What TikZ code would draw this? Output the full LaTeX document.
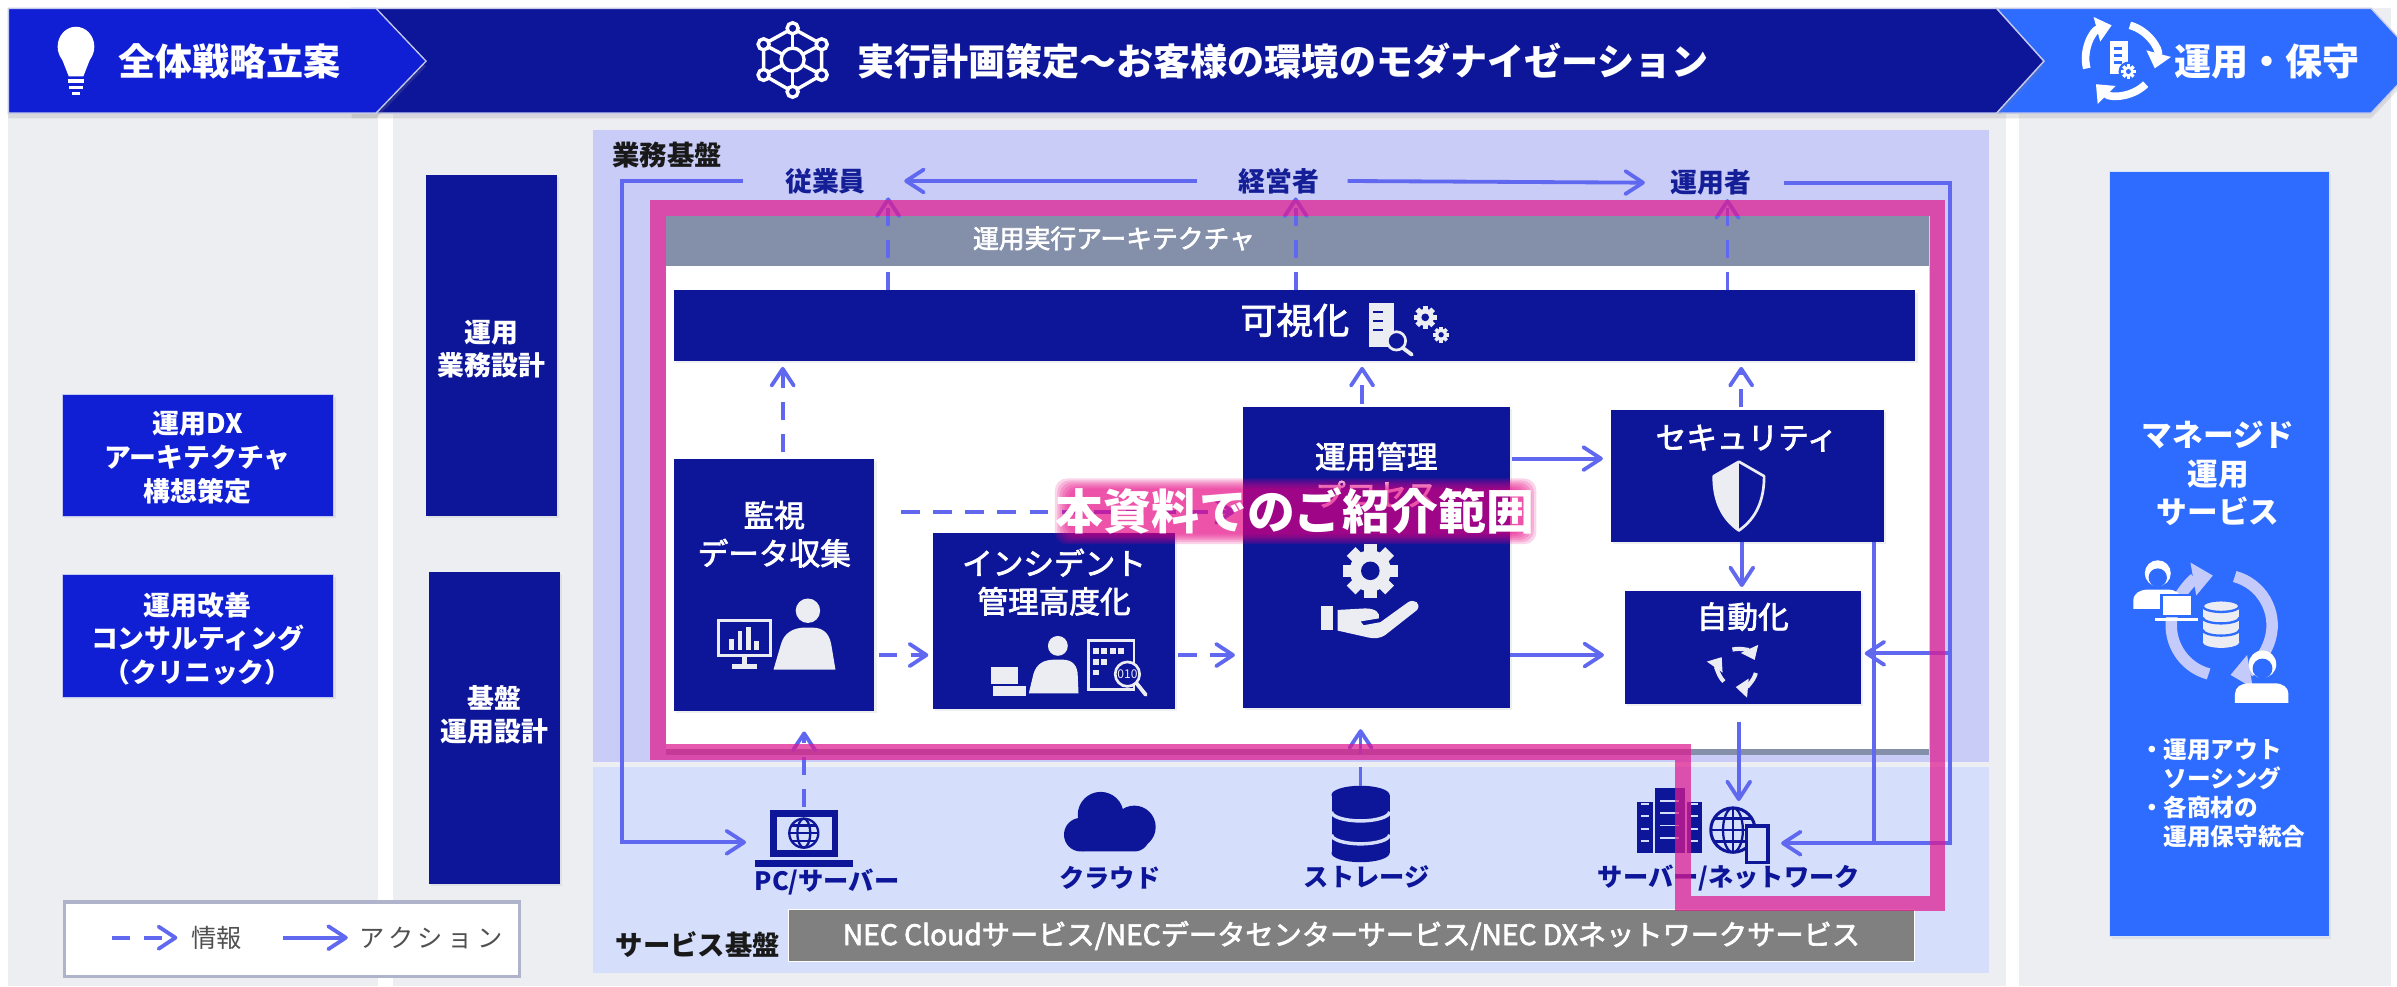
\documentclass[tikz,border=0pt]{standalone}
\usepackage{fontspec}
\setmainfont{Noto Sans CJK JP}
\newfontfamily\mediumfont{Noto Sans CJK JP}[FakeBold=2.5]
\usetikzlibrary{arrows.meta,shadows}

\definecolor{pagegrey}{RGB}{236,238,242}
\definecolor{chevblue}{RGB}{17,31,212}
\definecolor{navy}{RGB}{13,22,153}
\definecolor{actornavy}{RGB}{20,30,150}
\definecolor{mgdblue}{RGB}{46,107,255}
\definecolor{gyomubg}{RGB}{201,204,247}
\definecolor{svcbg}{RGB}{213,223,252}
\definecolor{archgrey}{RGB}{132,144,170}
\definecolor{flow}{RGB}{96,104,240}
\definecolor{scopepink}{RGB}{223,26,143}
\definecolor{glowpink}{RGB}{232,0,130}
\definecolor{iconwhite}{RGB}{236,237,242}
\definecolor{cyclelav}{RGB}{196,202,250}
\definecolor{necgrey}{RGB}{128,128,128}
\definecolor{legendgrey}{RGB}{80,80,80}
\definecolor{edgeline}{RGB}{197,202,235}

% one unit of the picture
\newcommand{\px}{0.2mm}

% gear: centre, radius, colour, hole colour
\newcommand{\gearicon}[4]{%
  \begin{scope}[shift={#1}]
    \foreach \ang in {0,45,90,135}
      \fill[#3, rotate=\ang] (-0.3*#2,-1.32*#2) rectangle (0.3*#2,1.32*#2);
    \fill[#3] (0,0) circle (#2);
    \fill[#4] (0,0) circle (0.45*#2);
  \end{scope}}

\tikzset{
  chev/.style={draw=edgeline, line width=0.5pt,
    drop shadow={opacity=0.2, shadow xshift=0pt, shadow yshift=-0.7mm}},
  card/.style={inner sep=0pt, outer sep=0pt,
    drop shadow={opacity=0.12, shadow xshift=0.3mm, shadow yshift=-0.3mm}},
  navybox/.style={card, fill=navy},
  bluebox/.style={card, fill=chevblue, draw=white!75!chevblue, line width=0.4pt},
  legendbox/.style={inner sep=0pt, fill=white, draw=edgeline!70!gray, line width=0.4mm},
  necbar/.style={inner sep=0pt, fill=necgrey, draw=white, line width=0.3pt, text=white,
    font=\mediumfont\fontsize{10.5}{12}\selectfont},
  bannertext/.style={text=white, font=\bfseries\fontsize{13.8}{16}\selectfont},
  plantext/.style={text=white, align=center, font=\bfseries\fontsize{10}{12.5}\selectfont},
  boxtitle/.style={text=white, align=center, font=\mediumfont\fontsize{11.4}{14.2}\selectfont},
  archtitle/.style={text=white, font=\mediumfont\fontsize{9.6}{11}\selectfont},
  actor/.style={text=actornavy, inner sep=0pt, font=\bfseries\fontsize{10}{12}\selectfont},
  layerlabel/.style={text=black!90, font=\bfseries\fontsize{10.2}{12}\selectfont},
  infralabel/.style={text=navy, font=\bfseries\fontsize{9.4}{11}\selectfont},
  legendtext/.style={text=legendgrey, font=\fontsize{9.4}{11}\selectfont},
  bullettext/.style={text=white, align=left, font=\bfseries\fontsize{8.8}{10.8}\selectfont},
  scopelabel/.style={font=\bfseries\fontsize{17.8}{20}\selectfont},
  bits/.style={text=iconwhite, inner sep=0pt, font=\fontsize{4.5}{5}\selectfont},
  spot/.style={inner sep=0pt, outer sep=0pt},
  info/.style={flow, line width=0.5mm, dash pattern=on 2.4mm off 1.8mm,
    -{Straight Barb[round, length=2.2mm, width=2.9mm]}},
  action/.style={flow, line width=0.5mm, -{Straight Barb[round, length=2.3mm, width=3mm]}},
  flowline/.style={flow, line width=0.5mm},
}

\begin{document}
\begin{tikzpicture}[x=0.2mm, y=-0.2mm]
\useasboundingbox (0,0) rectangle (1568,645);
\fill[white] (0,0) rectangle (1568,645);
\fill[pagegrey] (5,5) rectangle (1564,645);
\fill[white] (247,5) rectangle (257,645);
\fill[white] (1312,5) rectangle (1321,645);

% ---- phase banner
\path[chev, fill=mgdblue] (1306,5.5) -- (1551,5.5) -- (1583,40) -- (1551,74) -- (1306,74) -- (1337,40) -- cycle;
\path[chev, fill=navy] (230,5.5) -- (1306,5.5) -- (1337,40) -- (1306,74) -- (230,74) -- cycle;
\path[chev, fill=chevblue] (5.5,5.5) -- (246,5.5) -- (278.7,40) -- (246,74) -- (5.5,74) -- cycle;

\node[bannertext] (senryaku) at (150.2,40) {全体戦略立案};
\node[bannertext] (keikaku) at (839.3,40) {実行計画策定〜お客様の環境のモダナイゼーション};
\node[bannertext] (hoshu) at (1483,40) {運用・保守};

% bulb
\fill[white] (49.7,30.5) ellipse (12 and 13);
\fill[white] (39.5,36) -- (60,36) -- (54.5,50) -- (45,50) -- cycle;
\fill[white] (44.5,52) rectangle (55,54.5);
\fill[white] (45,56) rectangle (54.5,58.5);
\fill[white] (47,60) rectangle (52.5,62);

% molecule
\begin{scope}[shift={(518.5,39)}, white, line width=0.45mm]
  \coordinate (m1) at (0,-20.5);
  \coordinate (m2) at (-19,-10);
  \coordinate (m3) at (-19,10);
  \coordinate (m4) at (0,21);
  \coordinate (m5) at (19,10);
  \coordinate (m6) at (19,-10);
  \draw (m1) -- (m2) -- (m3) -- (m4) -- (m5) -- (m6) -- cycle;
  \foreach \m in {m1,m2,m3,m4,m5,m6} \draw (0,0) -- (\m);
  \foreach \m in {m1,m2,m3,m4,m5,m6} \filldraw[fill=navy] (\m) circle (3.6);
  \filldraw[fill=navy] (0,0) circle (7.5);
\end{scope}

% operation cycle
\begin{scope}[shift={(1387.3,38.8)}]
  \foreach \s in {0,120,240}
    \draw[white, line width=1mm, -{Triangle[length=2mm,width=3.2mm]}] (\s-195:23) arc (\s-195:\s-105:23);
  \fill[white] (-7,-12) rectangle (4.5,9.5);
  \foreach \yy in {-7,-2.5,2} \draw[mgdblue, line width=0.35mm] (-4.5,\yy) -- (0.5,\yy);
  \fill[mgdblue] (5,8) circle (6.5);
  \gearicon{(5,8)}{3.6}{white}{mgdblue}
\end{scope}

% ---- strategy column
\node[bluebox, minimum width=177.4*\px, minimum height=79.6*\px] (dxplan) at (129.3,297.8) {};
\node[plantext] (dxplan-txt) at (129.3,299.4) {運用DX\\アーキテクチャ\\構想策定};
\node[bluebox, minimum width=177.4*\px, minimum height=80*\px] (clinic) at (129.3,416) {};
\node[plantext] (clinic-txt) at (129.3,417.7) {運用改善\\コンサルティング\\（クリニック）};

% legend
\node[legendbox, minimum width=297.5*\px, minimum height=48.5*\px] (legend) at (190.8,614.3) {};
\coordinate (info-a) at (73,613.4);
\coordinate (info-b) at (116,613.4);
\draw[info] (info-a) -- (info-b);
\node[legendtext] (info-txt) at (141.5,613.4) {情報};
\coordinate (act-a) at (185,613.4);
\coordinate (act-b) at (227.5,613.4);
\draw[action] (act-a) -- (act-b);
\node[legendtext] (act-txt) at (282,613.4) {\addfontfeatures{LetterSpace=18}アクション};

% ---- design column
\node[navybox, minimum width=85.5*\px, minimum height=223*\px] (gyomu) at (321.3,226) {};
\node[plantext] (gyomu-txt) at (321.3,228.5) {運用\\業務設計};
\node[navybox, minimum width=85.5*\px, minimum height=204*\px] (kiban) at (323.3,476) {};
\node[plantext] (kiban-txt) at (323.3,467.5) {基盤\\運用設計};

% ---- layers
\fill[gyomubg] (388,85) rectangle (1301,498.5);
\fill[svcbg] (388,502) rectangle (1301,636.6);
\node[layerlabel] (gyomu-layer) at (436.5,101.4) {業務基盤};
\node[layerlabel] (svc-layer) at (456.5,618) {サービス基盤};

\fill[white] (435.7,141.3) rectangle (1262,494);
\fill[archgrey] (435.7,141.3) rectangle (1262,173.8);
\fill[archgrey] (435.7,490) rectangle (1262,494);
\node[archtitle] (arch) at (728.7,156) {運用実行アーキテクチャ};

\node[necbar, minimum width=737*\px, minimum height=34*\px] (nec) at (884,612)
  {NEC Cloudサービス/NECデータセンターサービス/NEC DXネットワークサービス};

% ---- function boxes
\node[navybox, minimum width=812*\px, minimum height=46*\px] (kashika) at (847,213) {};
\node[navybox, minimum width=131*\px, minimum height=165*\px] (kanshi) at (506.5,382.5) {};
\node[navybox, minimum width=158.5*\px, minimum height=115*\px] (incident) at (689.5,406) {};
\node[navybox, minimum width=175*\px, minimum height=197*\px] (kanri) at (900.3,364.5) {};
\node[navybox, minimum width=179*\px, minimum height=86*\px] (security) at (1143,311.3) {};
\node[navybox, minimum width=154.6*\px, minimum height=74*\px] (jidou) at (1140,423.5) {};

\node[boxtitle, font=\mediumfont\fontsize{13.5}{16}\selectfont] (kashika-txt) at (847,209.4) {可視化};
\node[boxtitle] (kanshi-txt) at (506.5,349.5) {監視\\データ収集};
\node[boxtitle] (incident-txt) at (689.5,380.8) {インシデント\\管理高度化};
\node[boxtitle] (kanri-txt) at (900.3,310.6) {運用管理\\プロセス};
\node[boxtitle] (security-txt) at (1142.6,286.6) {セキュリティ};
\node[boxtitle] (jidou-txt) at (1140,403.4) {自動化};

% visualisation icon
\fill[iconwhite] (895.7,198.4) rectangle (912,226.8);
\foreach \yy in {204,210,216} \draw[navy, line width=0.3mm] (898,\yy) -- (905,\yy);
\draw[iconwhite, line width=0.35mm, fill=navy] (913.5,223) circle (6);
\draw[iconwhite, line width=0.5mm, line cap=round] (917.5,227.5) -- (923.5,232);
\gearicon{(932.3,207.6)}{5.6}{iconwhite}{navy}
\gearicon{(942.7,219)}{3.9}{iconwhite}{navy}

% monitoring icon
\draw[iconwhite, line width=0.35mm] (470,406) rectangle (504,429);
\foreach \xx/\yy in {477/418,482.5/413,488/410,493.5/419}
  \fill[iconwhite] (\xx,\yy) rectangle (\xx+3,425);
\fill[iconwhite] (485.5,429) rectangle (488.5,434.5);
\fill[iconwhite] (479,434.5) rectangle (495,437.5);
\fill[iconwhite] (528.5,399.5) circle (8);
\fill[iconwhite] (506,438) -- (511,421) .. controls (513,414) and (519,410.5) .. (527,410.5)
  -- (531,410.5) .. controls (540,410.5) and (543,416) .. (544,423) -- (546.5,438) -- cycle;

% incident icon
\fill[iconwhite] (648.5,436) rectangle (666,447.5);
\fill[iconwhite] (649.5,449) rectangle (671,455);
\fill[iconwhite] (692,422.5) circle (6.5);
\fill[iconwhite] (673,453.5) -- (676,441) .. controls (678,434) and (683,431.5) .. (690,431.5)
  -- (695,431.5) .. controls (702,431.5) and (705,436) .. (705,442) -- (705.5,453.5) -- cycle;
\draw[iconwhite, line width=0.3mm] (712,419) rectangle (742,451);
\foreach \xx in {715,720.5,726,731.5} \fill[iconwhite] (\xx,424) rectangle ++(3.8,3.8);
\foreach \xx in {715,720.5} \fill[iconwhite] (\xx,431) rectangle ++(3.8,3.8);
\fill[iconwhite] (715,438) rectangle ++(3.8,3.8);
\draw[iconwhite, line width=0.35mm, fill=navy] (737.5,441) circle (8);
\draw[iconwhite, line width=0.5mm, line cap=round] (743.5,447) -- (749.5,454.5);
\node[bits] (bits) at (737.5,441) {010};

% process icon
\gearicon{(896.4,373.4)}{13.5}{iconwhite}{navy}
\fill[iconwhite] (864,396.4) rectangle (872,412);
\fill[iconwhite] (875,399) -- (893,398) .. controls (900,398) and (903,401) .. (902,404.5)
  -- (890,406.5) -- (892,409) -- (903,407) -- (921,394) .. controls (925,391.5) and (930,394.5) .. (927,399)
  -- (906,415.5) .. controls (903,417.5) and (899,418) .. (895,417) -- (875,412.5) -- cycle;

% shield
\fill[iconwhite] (1137.5,302) -- (1121,311.5) .. controls (1121,327) and (1126,339) .. (1137.5,347) -- cycle;
\draw[iconwhite, line width=0.35mm, line join=round] (1137.5,302) -- (1154,311.5)
  .. controls (1154,327) and (1149,339) .. (1137.5,347)
  .. controls (1126,339) and (1121,327) .. (1121,311.5) -- cycle;

% automation cycle
\begin{scope}[shift={(1136.5,437)}]
  \foreach \s in {0,120,240}
    \draw[iconwhite, line width=0.55mm, -{Triangle[length=1.6mm,width=2.4mm]}] (\s+15:12.5) arc (\s+15:\s+95:12.5);
\end{scope}

% ---- actors
\node[actor] (jugyoin) at (540,118.4) {従業員};
\node[actor] (keiei) at (836.4,118.4) {経営者};
\node[actor] (unyosha) at (1119,119.5) {運用者};

% ---- service layer
\node[spot, minimum width=64*\px, minimum height=37*\px] (pc) at (526,548.5) {};
\node[spot, minimum width=63*\px, minimum height=39*\px] (cloud) at (725.5,537.5) {};
\node[spot, minimum width=38*\px, minimum height=50*\px] (storage) at (890,539) {};
\node[spot, minimum width=42.5*\px, minimum height=42.5*\px] (server) at (1092,537) {};
\node[spot, minimum width=38*\px, minimum height=36*\px] (net) at (1137.6,546) {};

% laptop
\fill[navy] (503.4,530) rectangle (548.4,560.4);
\fill[svcbg] (508,534.5) rectangle (544,556);
\fill[navy] (494,562.5) rectangle (558,567);
\draw[navy, line width=0.3mm] (525.8,545) circle (9.5);
\draw[navy, line width=0.3mm] (525.8,545) ellipse (4.2 and 9.5);
\draw[navy, line width=0.3mm] (516.3,545) -- (535.3,545) (518,540) -- (533.6,540) (518,550) -- (533.6,550);
% cloud
\fill[navy] (720,533) circle (15);
\fill[navy] (742,541) circle (14);
\fill[navy] (707,546) circle (11);
\fill[navy, rounded corners=2mm] (700,538) rectangle (752,557);
% storage
\fill[navy] (871,520) rectangle (909,558);
\fill[navy] (890,520) ellipse (19 and 6);
\fill[navy] (890,558) ellipse (19 and 6);
\draw[svcbg, line width=0.45mm] (871,531) arc (180:0:19 and 6);
\draw[svcbg, line width=0.45mm] (871,546) arc (180:0:19 and 6);
% server building
\fill[navy] (1071,524.4) rectangle (1081,558.2);
\fill[navy] (1082.3,515.7) rectangle (1102.3,558.2);
\fill[navy] (1103.5,524.4) rectangle (1113.5,558.2);
\foreach \yy in {524,532,540,548} {
  \draw[svcbg, line width=0.25mm] (1086,\yy) -- (1098.5,\yy);
  \draw[svcbg, line width=0.25mm] (1073.5,\yy+2) -- (1078.5,\yy+2);
  \draw[svcbg, line width=0.25mm] (1106,\yy+2) -- (1111,\yy+2);
}
% globe and phone
\draw[navy, line width=0.4mm] (1133.6,543) circle (14.5);
\draw[navy, line width=0.3mm] (1133.6,543) ellipse (6.5 and 14.5);
\draw[navy, line width=0.3mm] (1119.1,543) -- (1148.1,543) (1121,535.5) -- (1146,535.5)
  (1121,550.5) -- (1146,550.5) (1133.6,528.5) -- (1133.6,557.5);
\draw[navy, line width=0.45mm, fill=svcbg] (1142.3,540.3) rectangle (1156.6,564.1);

\node[infralabel] (pc-txt) at (541,577) {PC/サーバー};
\node[infralabel] (cloud-txt) at (726,574.5) {クラウド};
\node[infralabel] (storage-txt) at (894,573.5) {ストレージ};
\node[infralabel] (net-txt) at (1131,574.4) {サーバー/ネットワーク};

% ---- managed service column
\node[card, fill=mgdblue, draw=white!80!mgdblue, line width=0.4pt,
  minimum width=143.5*\px, minimum height=500.7*\px] (managed) at (1451.8,362.4) {};
\node[plantext, font=\bfseries\fontsize{11.4}{14.3}\selectfont] (managed-txt) at (1451,309.8) {マネージド\\運用\\サービス};
\begin{scope}[shift={(1453.3,409)}]
  \draw[cyclelav, line width=1.5mm, -{Triangle[length=2.6mm,width=4.2mm]}] (-255:33) arc (-255:-100:33);
  \draw[cyclelav, line width=1.5mm, -{Triangle[length=2.6mm,width=4.2mm]}] (-75:33) arc (-75:80:33);
\end{scope}
\fill[iconwhite] (1440.9,396.5) rectangle (1464.9,420);
\fill[iconwhite] (1452.9,420) ellipse (12 and 3.8);
\fill[iconwhite] (1452.9,396.5) ellipse (12 and 3.8);
\draw[mgdblue, line width=0.3mm] (1452.9,396.5) ellipse (12 and 3.8);
\draw[mgdblue, line width=0.3mm] (1440.9,404) arc (180:0:12 and 3.8);
\draw[mgdblue, line width=0.3mm] (1440.9,412) arc (180:0:12 and 3.8);
\fill[white] (1411.5,375) circle (8.5);
\fill[mgdblue] (1411.5,377.8) circle (6);
\fill[white] (1395.5,398.3) -- (1395.5,393) .. controls (1395.5,388) and (1400,385.7) .. (1405,385.7)
  -- (1418,385.7) .. controls (1423,385.7) and (1427,388) .. (1427,393) -- (1427,398.3) -- cycle;
\fill[white, draw=mgdblue, line width=0.3mm] (1414,389) rectangle (1434,403);
\fill[white] (1410,404.5) rectangle (1438,406.5);
\fill[white] (1480,434.5) circle (9);
\fill[mgdblue] (1480,437.3) circle (6.5);
\fill[white] (1462,459.8) -- (1462,454) .. controls (1462,449.5) and (1466,447) .. (1471,447)
  -- (1488,447) .. controls (1493,447) and (1497,449.5) .. (1497,454) -- (1497,459.8) -- cycle;
\node[bullettext] (managed-list) at (1454,519) {・運用アウト\\　ソーシング\\・各商材の\\　運用保守統合};

% ---- information flow
\draw[info] ([yshift=0.8mm]kanshi.north -| 512,0) -- ([yshift=-0.8mm]kashika.south -| 512,0);
\draw[info] ([yshift=0.4mm]kanri.north -| 891,0) -- ([yshift=-0.8mm]kashika.south -| 891,0);
\draw[info] ([yshift=0.4mm]security.north -| 1139,0) -- ([yshift=-0.8mm]kashika.south -| 1139,0);
\draw[info] (kashika.north -| 581,0) -- ([yshift=-0.4mm]jugyoin.south -| 581,0);
\draw[info] (kashika.north -| 847.6,0) -- ([yshift=-0.4mm]keiei.south -| 847.6,0);
\draw[info] (kashika.north -| 1130,0) -- ([yshift=-0.4mm]unyosha.south -| 1130,0);
\draw[info] ([xshift=3.5mm]kanshi.east |- 0,334.7) -- ([xshift=-1mm]kanri.west |- 0,334.7);
\draw[info] ([xshift=0.6mm]kanshi.east |- 0,428.5) -- ([xshift=-0.6mm]incident.west |- 0,428.5);
\draw[info] ([xshift=0.4mm]incident.east |- 0,428.5) -- ([xshift=-1mm]kanri.west |- 0,428.5);
\draw[info] ([yshift=0.4mm]pc.north -| 526,0) -- ([yshift=-2.7mm]kanshi.south -| 526,0);
\draw[info] (storage.north -| 890,0) -- ([yshift=-2.8mm]kanri.south -| 890,0);

% ---- actions
\draw[action] (783,0 |- keiei) -- (591.5,0 |- jugyoin);
\draw[action] (881.5,0 |- keiei) -- (1076,0 |- unyosha);
\draw[action] (486,0 |- jugyoin) -| (407,551) -- ([xshift=-1.2mm]pc.west |- 0,551);
\draw[action] (1166.7,0 |- unyosha) -| (1275.6,551.6) -- ([xshift=1.7mm]net.east |- 0,551.6);
\draw[flowline] (security.south -| 1226,0) -- (1226,551.6);
\draw[action] (1275.6,427.4) -- ([xshift=0.5mm]jidou.east |- 0,427.4);
\draw[action] ([xshift=0.2mm]kanri.east |- 0,300) -- ([xshift=-1mm]security.west |- 0,300);
\draw[action] (kanri.east |- 0,428.5) -- ([xshift=-2.7mm]jidou.west |- 0,428.5);
\draw[action] (security.south -| 1139.4,0) -- ([yshift=0.5mm]jidou.north -| 1139.4,0);
\draw[action] ([yshift=-2.4mm]jidou.south -| 1137.4,0) -- ([yshift=0.8mm]net.north -| 1137.4,0);

% ---- scope frame and label
\draw[scopepink, draw opacity=0.72, line width=2mm] (430.5,136) -- (1267.5,136) -- (1267.5,591)
  -- (1101,591) -- (1101,492) -- (430.5,492) -- cycle;
% soft glow behind the label
\foreach \g in {0,1,...,5}
  \fill[glowpink, fill opacity=0.17, rounded corners=1.6mm] (690+1.6*\g,313+1.3*\g) rectangle (1005-1.6*\g,356-1.3*\g);
\node[scopelabel, text=white] (scope-label) at (847,334) {本資料でのご紹介範囲};
\end{tikzpicture}
\end{document}
